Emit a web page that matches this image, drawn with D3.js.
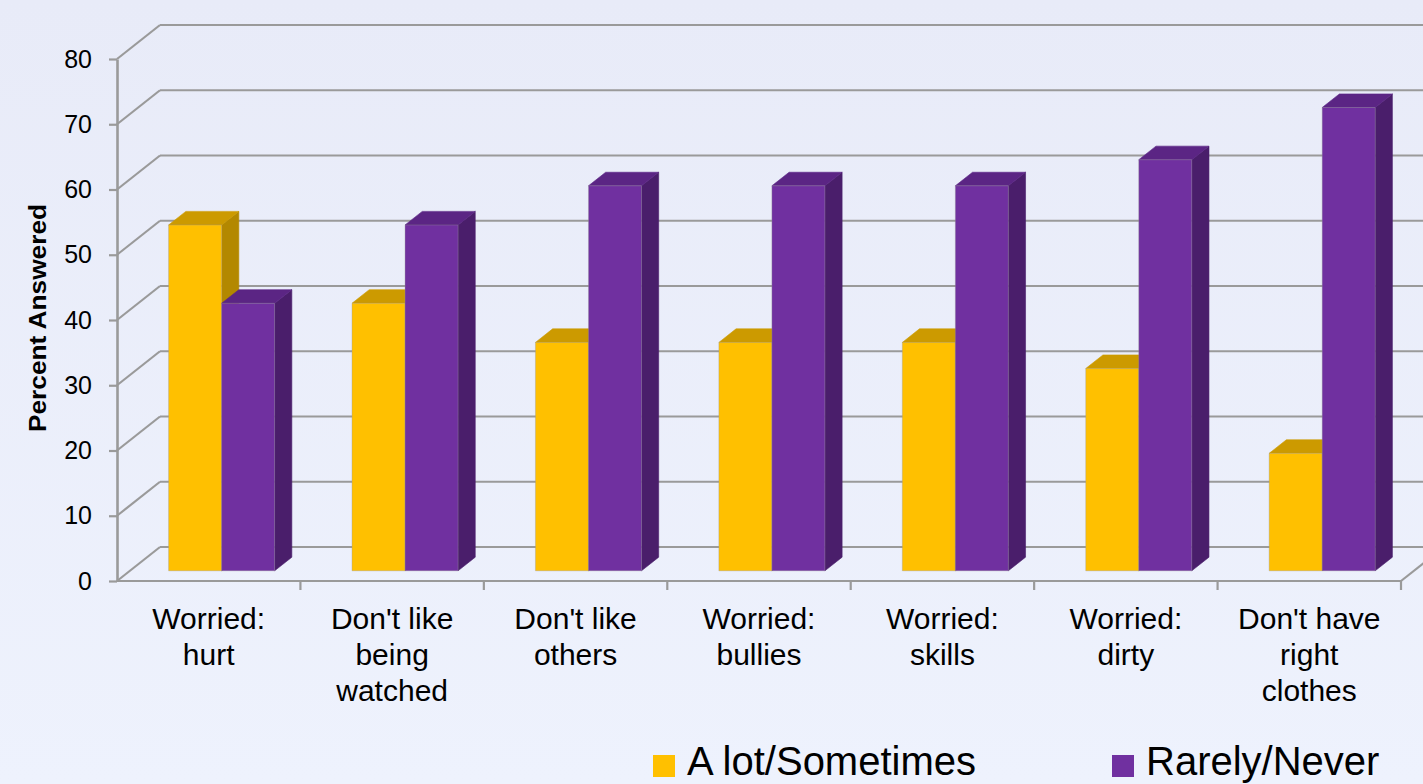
<!DOCTYPE html>
<html>
<head>
<meta charset="utf-8">
<script src="https://cdnjs.cloudflare.com/ajax/libs/d3/7.8.5/d3.min.js"></script>
<style>
  html, body { margin: 0; padding: 0; overflow: hidden; }
  svg { display: block; font-family: "Liberation Sans", Arial, sans-serif; }
</style>
</head>
<body>
<svg id="chart" width="1423" height="784"></svg>
<script>
const categories = ["Worried:\nhurt", "Don't like\nbeing\nwatched", "Don't like\nothers", "Worried:\nbullies", "Worried:\nskills", "Worried:\ndirty", "Don't have\nright\nclothes"];
const seriesNames = ["A lot/Sometimes", "Rarely/Never"];
const aLotSometimes = [53, 41, 35, 35, 35, 31, 18];
const rarelyNever = [41, 53, 59, 59, 59, 63, 71];
const yTicks = [0, 10, 20, 30, 40, 50, 60, 70, 80];
const yTitle = "Percent Answered";

const W = 1423, H = 784;
const svg = d3.select("#chart");

// colours per series: front, top, side
const colors = {
  "A lot/Sometimes": { front: "#FFC000", top: "#CC9A00", side: "#B38800" },
  "Rarely/Never": { front: "#7030A0", top: "#5B2584", side: "#4A1E6B" }
};

// background
const defs = svg.append("defs");
const bg = defs.append("linearGradient").attr("id", "bg").attr("x1", 0).attr("y1", 0).attr("x2", 0).attr("y2", 1);
bg.append("stop").attr("offset", "0%").attr("stop-color", "#E8EBF8");
bg.append("stop").attr("offset", "100%").attr("stop-color", "#EEF2FD");
svg.append("rect").attr("width", W).attr("height", H).attr("fill", "url(#bg)");

// scales
const x0 = 117, x1 = 1401;
const y = d3.scaleLinear().domain([0, 80]).range([581, 59]);
const x = d3.scaleBand().domain(categories).range([x0, x1]);
const xs = d3.scaleBand().domain(seriesNames).range([0, x.bandwidth()]).paddingOuter(0.73);
const DX = 43, DY = -34;
const zFront = 0.3, zBack = 0.7;
const P = (px, v, z) => [px + z * DX, y(v) + z * DY];

const gridColor = "#9A9A9A";
const grid = svg.append("g").attr("stroke", gridColor).attr("stroke-width", 2.2).attr("fill", "none");

// back wall gridlines
grid.selectAll("line.back").data(yTicks).join("line")
  .attr("class", "back")
  .attr("x1", x0 + DX).attr("x2", x1 + DX)
  .attr("y1", d => y(d) + DY).attr("y2", d => y(d) + DY);

// left wall diagonals
grid.selectAll("line.side").data(yTicks).join("line")
  .attr("class", "side")
  .attr("x1", x0).attr("x2", x0 + DX)
  .attr("y1", d => y(d)).attr("y2", d => y(d) + DY);

// floor front and right edges
grid.append("line").attr("x1", x0).attr("x2", x1).attr("y1", y(0)).attr("y2", y(0));
grid.append("line").attr("x1", x1).attr("x2", x1 + DX).attr("y1", y(0)).attr("y2", y(0) + DY);

// category ticks
const bounds = categories.slice(1).map(c => x(c)).concat([x1]);
grid.selectAll("line.ctick").data(bounds).join("line")
  .attr("class", "ctick")
  .attr("x1", d => d).attr("x2", d => d)
  .attr("y1", y(0)).attr("y2", y(0) + 9);

// bars
const data = categories.map((c, i) => ({
  cat: c,
  vals: [
    { s: seriesNames[0], v: aLotSometimes[i] },
    { s: seriesNames[1], v: rarelyNever[i] }
  ]
}));

const poly = pts => pts.map(p => p.join(",")).join(" ");
const barsG = svg.append("g");
data.forEach(d => {
  d.vals.forEach(b => {
    const xl = x(d.cat) + xs(b.s);
    const xr = xl + xs.bandwidth();
    const c = colors[b.s];
    const g = barsG.append("g").attr("stroke-width", 0.6).attr("stroke-linejoin", "round");
    g.append("polygon")
      .attr("points", poly([P(xr, 0, zFront), P(xr, b.v, zFront), P(xr, b.v, zBack), P(xr, 0, zBack)]))
      .attr("fill", c.side).attr("stroke", c.side);
    g.append("polygon")
      .attr("points", poly([P(xl, b.v, zFront), P(xr, b.v, zFront), P(xr, b.v, zBack), P(xl, b.v, zBack)]))
      .attr("fill", c.top).attr("stroke", c.top);
    const f0 = P(xl, b.v, zFront), f1 = P(xr, 0, zFront);
    g.append("rect")
      .attr("x", f0[0]).attr("y", f0[1])
      .attr("width", f1[0] - f0[0]).attr("height", f1[1] - f0[1])
      .attr("fill", c.front).attr("stroke", "rgba(150,150,150,0.6)");
  });
});

// y axis
const yAxis = d3.axisLeft(y).tickValues(yTicks).tickSize(8).tickSizeOuter(0).tickPadding(17);
const yg = svg.append("g").attr("transform", `translate(${x0},0)`).call(yAxis);
yg.select(".domain").attr("stroke", gridColor).attr("stroke-width", 2.6);
yg.selectAll(".tick line").attr("stroke", gridColor).attr("stroke-width", 2.2);
yg.selectAll(".tick text").attr("font-size", 25).attr("fill", "#000")
  .attr("font-family", "'Liberation Sans', Arial, sans-serif");

// y title
svg.append("text")
  .attr("transform", "translate(46,318) rotate(-90)")
  .attr("text-anchor", "middle")
  .attr("font-size", 24).attr("font-weight", "bold").attr("fill", "#000")
  .attr("textLength", 228).attr("lengthAdjust", "spacingAndGlyphs")
  .text(yTitle);

// category labels
const catG = svg.append("g").attr("font-size", 30).attr("fill", "#000").attr("text-anchor", "middle");
categories.forEach(c => {
  const t = catG.append("text").attr("x", x(c) + x.bandwidth() / 2).attr("y", 629);
  c.split("\n").forEach((line, i) => {
    t.append("tspan").attr("x", x(c) + x.bandwidth() / 2).attr("dy", i === 0 ? 0 : 36).text(line);
  });
});

// legend
const legendPos = [653, 1112];
const lg = svg.append("g");
seriesNames.forEach((s, i) => {
  lg.append("rect").attr("x", legendPos[i]).attr("y", 755).attr("width", 22).attr("height", 22)
    .attr("fill", colors[s].front);
  lg.append("text").attr("x", legendPos[i] + 34).attr("y", 775)
    .attr("font-size", 40).attr("fill", "#000").text(s);
});
</script>
</body>
</html>
